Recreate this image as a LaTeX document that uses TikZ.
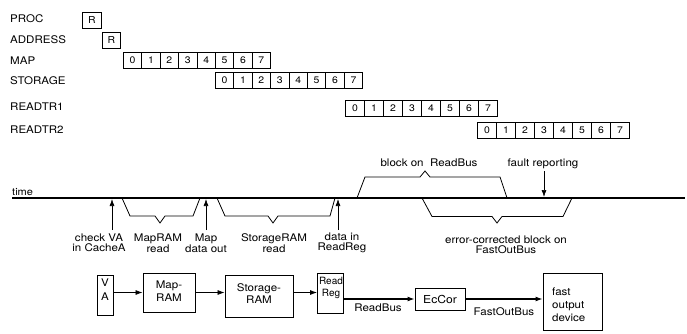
\documentclass[tikz,border=0pt]{standalone}
\usepackage{fontspec}
\setmainfont{TeX Gyre Heros}
\newfontfamily\widefont{TeX Gyre Heros}[FakeStretch=1.1]
\usetikzlibrary{arrows.meta}
\tikzset{
  rowlabel/.style={anchor=west, inner sep=0pt, font=\widefont\fontsize{10.5}{12}\selectfont},
  cell/.style={draw, line width=0.8pt, minimum height=16pt, inner sep=0pt, anchor=west, font=\widefont\fontsize{9.5}{10}\selectfont},
  lbl/.style={align=center, inner sep=0pt, font=\widefont\fontsize{10.5}{10.5}\selectfont},
  blk/.style={draw, line width=0.9pt, inner sep=0pt},
  blktext/.style={align=center, inner sep=0pt, font=\widefont\fontsize{10.5}{12.5}\selectfont},
  arr/.style={-{Latex[length=7pt,width=5pt]}, line width=0.7pt},
  brace/.style={line width=0.8pt, line join=miter},
  timeline/.style={line width=1.8pt}
}
\begin{document}
\begin{tikzpicture}[x=1pt,y=-1pt]
\useasboundingbox (0,0) rectangle (687,334);
% row labels
\node[rowlabel] (pproc) at (10,19) {PROC};
\node[rowlabel] (paddr) at (10,40) {ADDRESS};
\node[rowlabel] (pmap) at (10,60.5) {MAP};
\node[rowlabel] (pstor) at (10,81) {STORAGE};
\node[rowlabel] (prt1) at (10,107) {READTR1};
\node[rowlabel] (prt2) at (10,130) {READTR2};
% R boxes
\node[cell, minimum width=19pt] (rproc) at (82,20) {R};
\node[cell, minimum width=18pt] (raddr) at (102,40) {R};
% cells
\foreach \i in {0,...,7}{
  \node[cell, minimum width=18.4pt] (map\i) at ({123+\i*18.4},60) {\i};
  \node[cell, minimum width=18.4pt] (sto\i) at ({215+\i*18.4},80.5) {\i};
  \node[cell, minimum width=19pt] (rta\i) at ({345+\i*19},108.5) {\i};
  \node[cell, minimum width=19pt] (rtb\i) at ({477+\i*19},130) {\i};
}
% time line
\coordinate (t0) at (12,198);
\coordinate (t1) at (685,198);
\draw[timeline] (t0) -- (t1);
\node[anchor=south west, inner sep=0pt, font=\widefont\fontsize{10}{10}\selectfont] (tlbl) at (12,195.5) {time};
% upward arrows
\coordinate (u1a) at (112,230); \coordinate (u1b) at (112,199);
\coordinate (u2a) at (206,230); \coordinate (u2b) at (206,199);
\coordinate (u3a) at (338,230); \coordinate (u3b) at (338,199);
\draw[arr] (u1a) -- (u1b);
\draw[arr] (u2a) -- (u2b);
\draw[arr] (u3a) -- (u3b);
% fault reporting arrow
\coordinate (fa) at (544,171); \coordinate (fb) at (544,197);
\draw[arr] (fa) -- (fb);
% braces below
\draw[brace] (122,198) -- (130,216) -- (155,216) -- (160,223) -- (165,216) -- (193,216) -- (200,198);
\draw[brace] (217,198) -- (225,216) -- (268,216) -- (273,223) -- (278,216) -- (330,216) -- (335,198);
\draw[brace] (422,198) -- (432,216.5) -- (492,216.5) -- (497,223) -- (502,216.5) -- (563,216.5) -- (572,198);
% brace above
\draw[brace] (357,198) -- (365,177) -- (420,177) -- (425,171) -- (430,177) -- (500,177) -- (507,198);
% labels on time axis
\node[lbl] (lblrb) at (429,163) {block on\ \ ReadBus};
\node[lbl] (lblfr) at (543,164) {fault reporting};
\node[lbl] (l1) at (99,243) {check VA\\in CacheA};
\node[lbl] (l2) at (158,243) {MapRAM\\read};
\node[lbl] (l3) at (206,243) {Map\\data out};
\node[lbl] (l4) at (274,243) {StorageRAM\\read};
\node[lbl] (l5) at (342,243) {data in\\ReadReg};
\node[lbl] (l6) at (506,245) {error-corrected block on\\FastOutBus};
% block diagram
\node[blk, minimum width=16pt, minimum height=40pt] (va) at (105,295) {};
\node[blk, minimum width=52pt, minimum height=39pt] (mapram) at (169,292.5) {};
\node[blk, minimum width=68pt, minimum height=42pt] (storram) at (259,296) {};
\node[blk, minimum width=26pt, minimum height=40pt] (readreg) at (330.5,293) {};
\node[blk, minimum width=50pt, minimum height=22pt] (eccor) at (440,299) {};
\node[blk, minimum width=59pt, minimum height=57pt] (fast) at (572.5,301.5) {};
\node[blktext] (vat) at (105,290) {V\\[1.5pt]A};
\node[blktext] (mapt) at (169,291) {Map-\\RAM};
\node[blktext] (stort) at (259,293.5) {Storage-\\RAM};
\node[blktext, font=\fontsize{10}{11.5}\selectfont] (regt) at (331,288) {Read\\Reg};
\node[blktext, font=\widefont\fontsize{11}{12}\selectfont] (ecct) at (440,299) {EcCor};
\node[blktext, align=left, anchor=west, font=\widefont\fontsize{10.5}{13}\selectfont] (fastt) at (552,304.5) {fast\\output\\device};
\draw[arr] (va.east |- mapram.west) -- (mapram.west);
\draw[arr] (mapram.east) -- (mapram.east -| storram.west);
\draw[arr] (storram.east |- mapram.east) -- (readreg.west |- mapram.east);
\draw[arr, line width=1.1pt] (readreg.east |- eccor.west) -- (eccor.west);
\draw[arr, line width=1.1pt] (eccor.east) -- (eccor.east -| fast.west);
\node[lbl] (lrb) at (378,307.5) {ReadBus};
\node[lbl] (lfob) at (504,312) {FastOutBus};
\end{tikzpicture}
\end{document}
